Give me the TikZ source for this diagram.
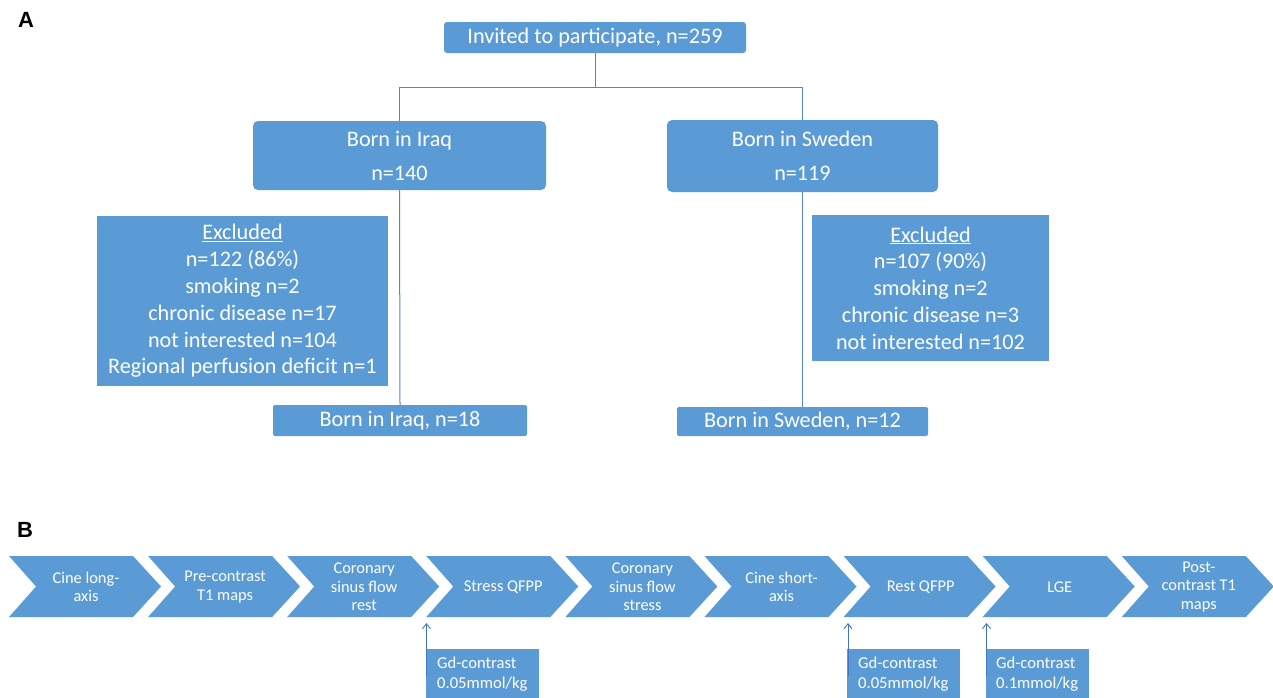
\documentclass[tikz,border=0pt]{standalone}
\usepackage{fontspec}
\setmainfont{Carlito}
\newfontfamily\labfont{Liberation Sans}
\usetikzlibrary{arrows.meta}
\definecolor{boxblue}{HTML}{5B9BD5}
\definecolor{linecol}{HTML}{5A86BE}
\definecolor{arrcol}{HTML}{4472C4}
\begin{document}
\begin{tikzpicture}[x=1pt,y=-1pt,
  box/.style={fill=boxblue, text=white, draw=none, inner sep=0pt, align=center, font=\fontsize{22.2}{26.8}\selectfont},
  conn/.style={draw=linecol, line width=1pt},
  chev/.style={fill=boxblue},
  chevtext/.style={text=white, align=center, inner sep=0pt, font=\fontsize{16.4}{18.5}\selectfont},
  gdbox/.style={fill=boxblue},
  gdtext/.style={text=white, align=left, inner sep=0pt, anchor=north west, font=\fontsize{16.6}{19.5}\selectfont},
  arr/.style={draw=arrcol, line width=0.9pt, -{Straight Barb[length=5pt,width=8pt]}},
  panel/.style={font=\labfont\bfseries\fontsize{22}{22}\selectfont, inner sep=0pt}
]
\useasboundingbox (0,0) rectangle (1273,697);
\fill[white] (0,0) rectangle (1273,697);

% Panel labels
\node[panel] (la) at (26,20) {A};
\node[panel] (lb) at (25,530) {B};

% Part A boxes
\node[box, rounded corners=3pt, minimum width=302pt, minimum height=31pt] (inv) at (595,37.5) {Invited to participate, n=259};
\node[box, rounded corners=5pt, minimum width=293pt, minimum height=69pt, font=\fontsize{22.2}{34}\selectfont] (iraq) at (399.5,155.5) {Born in Iraq\\n=140};
\node[box, rounded corners=5pt, minimum width=271pt, minimum height=72pt, font=\fontsize{22.2}{34}\selectfont] (swe) at (802.5,156) {Born in Sweden\\n=119};
\node[box, minimum width=291pt, minimum height=170pt] (excl) at (242.5,301) {\underline{Excluded}\\n=122 (86\%)\\smoking n=2\\chronic disease n=17\\not interested n=104\\Regional perfusion deficit n=1};
\node[box, minimum width=237pt, minimum height=146pt] (excr) at (930.5,288) {\underline{Excluded}\\n=107 (90\%)\\smoking n=2\\chronic disease n=3\\not interested n=102};
\path (excr.south) ++(0,1) coordinate (excrb);
\node[box, rounded corners=2pt, minimum width=254pt, minimum height=31pt] (iraqn) at (400,420.5) {Born in Iraq, n=18};
\node[box, rounded corners=2pt, minimum width=251pt, minimum height=29pt] (swen) at (802.5,421.5) {Born in Sweden, n=12};

% Connectors
\coordinate (split) at (595,87);
\draw[conn] (inv.south) -- (split);
\draw[conn] (split) -| (iraq.north);
\draw[conn] (split) -| (swe.north);
\draw[conn] (iraq.south) -- (iraqn.north);
\draw[conn] (swe.south) -- (swen.north);

% Part B chevrons
\foreach \i/\t in {0/{Cine long-\\axis}, 1/{Pre-contrast\\T1 maps}, 2/{Coronary\\sinus flow\\rest}, 3/{Stress QFPP}, 4/{Coronary\\sinus flow\\stress}, 5/{Cine short-\\axis}, 6/{Rest QFPP}, 7/{LGE}, 8/{Post-\\contrast T1\\maps}} {
  \pgfmathsetmacro\xa{9+139.1*\i}
  \path[chev] (\xa,556) -- (\xa+124,556) -- (\xa+152,586.5) -- (\xa+124,617) -- (\xa,617) -- (\xa+27,586.5) -- cycle;
  \node[chevtext] (c\i) at (\xa+77,587) {\t};
}

% Gd-contrast boxes
\path[gdbox] (426,649) rectangle (539,700);
\path[gdbox] (847,649) rectangle (960,700);
\path[gdbox] (986,649) rectangle (1089,700);
\node[gdtext] (g1) at (437,657) {Gd-contrast\\0.05mmol/kg};
\node[gdtext] (g2) at (858,657) {Gd-contrast\\0.05mmol/kg};
\node[gdtext] (g3) at (996,657) {Gd-contrast\\0.1mmol/kg};

% Arrows
\coordinate (a1s) at (426.5,676); \coordinate (a1e) at (426.5,623);
\coordinate (a2s) at (848,676); \coordinate (a2e) at (848,623);
\coordinate (a3s) at (986.5,676); \coordinate (a3e) at (986.5,623);
\draw[arr] (a1s) -- (a1e);
\draw[arr] (a2s) -- (a2e);
\draw[arr] (a3s) -- (a3e);
\end{tikzpicture}
\end{document}
